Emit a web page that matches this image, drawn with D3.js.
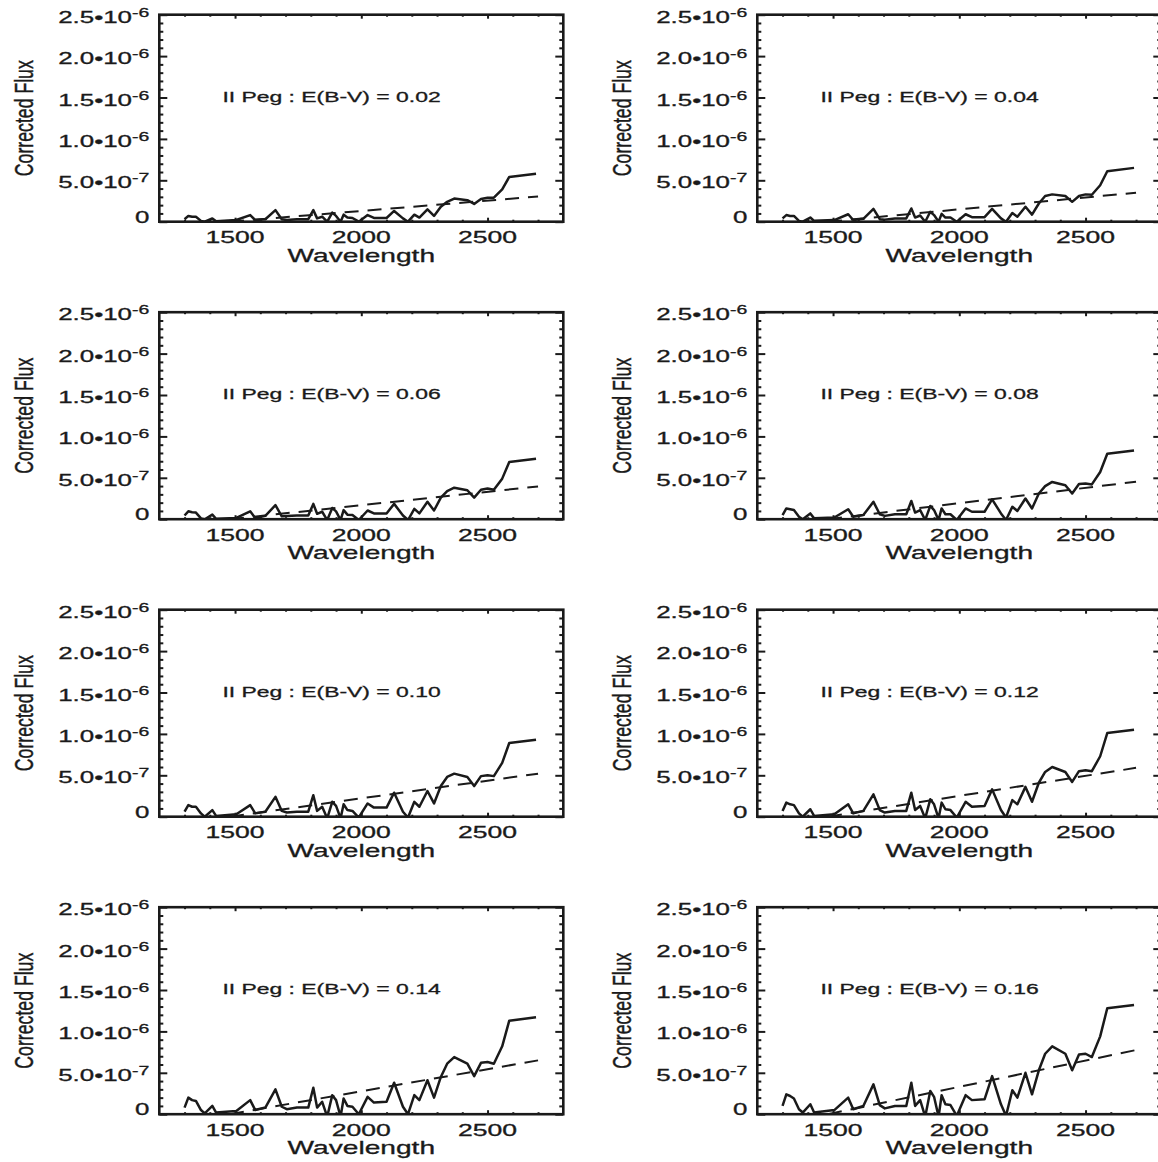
<!DOCTYPE html>
<html>
<head>
<meta charset="utf-8">
<script src="https://cdn.jsdelivr.net/npm/d3@7"></script>
<style>
body { margin: 0; background: #fff; }
svg { display: block; }
text { font-family: "Liberation Sans", Helvetica, Arial, sans-serif; fill: #1a1a1a; stroke: #1a1a1a; stroke-width: 0.3px; }
</style>
</head>
<body>
<div id="chart"></div>
<script>
// wavelength grid (Angstrom), shared by all panels
var wavelength = [1300, 1315, 1330, 1345, 1365, 1380, 1410, 1425, 1505, 1560, 1580, 1620, 1660, 1685, 1705, 1745, 1790, 1810, 1825, 1845, 1865, 1885, 1900, 1918, 1930, 1945, 1965, 1990, 2025, 2050, 2100, 2130, 2165, 2185, 2210, 2230, 2262, 2288, 2315, 2340, 2368, 2420, 2447, 2474, 2500, 2525, 2558, 2586, 2692]

// corrected flux, units of 1e-7
var flux002 = [0.3, 0.7, 0.6, 0.6, 0.1, 0.0, 0.4, 0.05, 0.2, 0.8, 0.2, 0.3, 1.4, 0.3, 0.2, 0.3, 0.3, 1.4, 0.4, 0.6, 0.0, 1.1, 0.7, 0.0, 0.85, 0.5, 0.45, 0.0, 0.8, 0.45, 0.45, 1.3, 0.4, 0.0, 0.85, 0.5, 1.5, 0.7, 1.8, 2.4, 2.8, 2.6, 2.15, 2.75, 2.9, 2.9, 3.9, 5.4, 5.8]
var flux004 = [0.4, 0.8, 0.7, 0.7, 0.1, 0.0, 0.5, 0.1, 0.2, 0.9, 0.2, 0.35, 1.55, 0.3, 0.25, 0.4, 0.4, 1.6, 0.5, 0.75, 0.0, 1.2, 0.8, 0.0, 0.95, 0.5, 0.5, 0.0, 0.9, 0.55, 0.55, 1.55, 0.4, 0.0, 1.05, 0.6, 1.8, 0.85, 2.2, 3.1, 3.3, 3.1, 2.4, 3.1, 3.3, 3.25, 4.4, 6.1, 6.5]
var flux006 = [0.45, 0.95, 0.85, 0.8, 0.1, 0.0, 0.55, 0.05, 0.15, 0.95, 0.15, 0.4, 1.7, 0.35, 0.4, 0.45, 0.45, 1.85, 0.65, 0.9, -0.1, 1.35, 0.95, -0.1, 1.1, 0.55, 0.5, -0.1, 1.05, 0.7, 0.7, 1.85, 0.45, -0.1, 1.25, 0.7, 2.1, 1.05, 2.6, 3.4, 3.8, 3.5, 2.6, 3.55, 3.7, 3.55, 4.9, 6.9, 7.3]
var flux008 = [0.5, 1.3, 1.2, 1.1, 0.3, 0.0, 0.7, 0.1, 0.2, 1.2, 0.3, 0.5, 2.1, 0.6, 0.4, 0.6, 0.6, 2.2, 0.8, 1.1, -0.1, 1.6, 1.1, -0.1, 1.3, 0.6, 0.6, -0.1, 1.3, 0.9, 0.9, 2.4, 0.7, -0.1, 1.5, 1.0, 2.5, 1.3, 3.1, 4.0, 4.5, 4.1, 3.1, 4.25, 4.3, 4.2, 5.7, 7.9, 8.3]
var flux010 = [0.6, 1.4, 1.2, 1.2, 0.4, 0.0, 0.8, 0.1, 0.3, 1.4, 0.4, 0.6, 2.4, 0.7, 0.5, 0.6, 0.6, 2.6, 0.7, 1.2, -0.2, 1.8, 1.3, -0.2, 1.5, 0.8, 0.7, -0.1, 1.6, 1.1, 1.1, 2.9, 0.6, -0.1, 1.8, 1.2, 3.1, 1.6, 3.7, 4.8, 5.2, 4.8, 3.7, 4.9, 5.0, 4.9, 6.5, 8.9, 9.3]
var flux012 = [0.7, 1.7, 1.5, 1.4, 0.4, 0.0, 0.9, 0.1, 0.3, 1.5, 0.4, 0.7, 2.7, 0.8, 0.5, 0.7, 0.7, 2.9, 0.8, 1.3, -0.2, 2.1, 1.5, -0.2, 1.7, 0.9, 0.8, -0.1, 1.8, 1.2, 1.3, 3.3, 0.8, -0.1, 2.0, 1.5, 3.6, 1.8, 4.1, 5.4, 6.0, 5.4, 4.2, 5.5, 5.6, 5.5, 7.3, 10.1, 10.5]
var flux014 = [0.8, 2.0, 1.7, 1.6, 0.5, 0.1, 1.0, 0.2, 0.4, 1.7, 0.5, 0.8, 3.0, 0.9, 0.6, 0.8, 0.8, 3.2, 0.8, 1.5, -0.3, 2.3, 1.7, -0.3, 1.9, 1.0, 0.9, 0.0, 2.1, 1.4, 1.5, 3.8, 0.9, 0.0, 2.3, 1.7, 4.1, 2.0, 4.5, 6.1, 6.9, 6.1, 4.6, 6.2, 6.3, 6.1, 8.2, 11.3, 11.7]
var flux016 = [1.0, 2.4, 2.2, 1.9, 0.6, 0.2, 1.2, 0.2, 0.5, 2.0, 0.6, 1.0, 3.6, 1.1, 0.7, 1.0, 1.0, 3.8, 1.0, 1.7, -0.3, 2.8, 2.1, -0.3, 2.3, 1.2, 1.1, -0.2, 2.3, 1.7, 1.8, 4.6, 1.2, -0.2, 2.9, 2.0, 5.0, 2.4, 5.3, 7.3, 8.2, 7.3, 5.3, 7.2, 7.3, 6.9, 9.4, 12.8, 13.2]

// dashed reference line: end points, wavelength and flux (1e-7)
var fitWave = [1480, 2700]
var fitStart = [0, 0, 0, 0, 0, 0, 0, 0]
var fitEnd = [3.05, 3.5, 3.96, 4.53, 5.2, 5.9, 6.5, 7.75]

var ebv = ['0.02', '0.04', '0.06', '0.08', '0.10', '0.12', '0.14', '0.16']
var fluxes = [flux002, flux004, flux006, flux008, flux010, flux012, flux014, flux016]

var xTicks = [1500, 2000, 2500]
var xMinor = [1300, 1400, 1600, 1700, 1800, 1900, 2100, 2200, 2300, 2400, 2600, 2700]
var yTicks = [0, 5, 10, 15, 20, 25]
var yMinor = [1, 2, 3, 4, 6, 7, 8, 9, 11, 12, 13, 14, 16, 17, 18, 19, 21, 22, 23, 24]
var yTickMant = ['0', '5.0', '1.0', '1.5', '2.0', '2.5']
var yTickExp = ['', '-7', '-6', '-6', '-6', '-6']

var W = 1158, H = 1162
var colX = [159.3, 757.3]
var rowY = [14.7, 312.2, 609.7, 907.2]
var pw = 404, ph = 207
var sx = 1.6  // the whole figure is stretched sideways

var svg = d3.select('#chart').append('svg').attr('width', W).attr('height', H)
svg.append('rect').attr('width', W).attr('height', H).attr('fill', '#fff')

var x = d3.scaleLinear().domain([1200, 2800]).range([0, pw])
var y = d3.scaleLinear().domain([0, 25]).range([ph, 0])

var drawTicks = function(g) {
	var strokeIt = function(sel) {
		sel.select('.domain').remove()
		sel.selectAll('line').attr('stroke', '#1a1a1a').attr('stroke-width', 2)
		sel.selectAll('text').remove()
	}
	g.append('g').attr('transform', 'translate(0,' + ph + ')')
		.call(d3.axisBottom(x).tickValues(xTicks).tickSize(-4).tickSizeOuter(0)).call(strokeIt)
	g.append('g').attr('transform', 'translate(0,' + ph + ')')
		.call(d3.axisBottom(x).tickValues(xMinor).tickSize(-2).tickSizeOuter(0)).call(strokeIt)
	g.append('g')
		.call(d3.axisTop(x).tickValues(xTicks).tickSize(-4).tickSizeOuter(0)).call(strokeIt)
	g.append('g')
		.call(d3.axisTop(x).tickValues(xMinor).tickSize(-2).tickSizeOuter(0)).call(strokeIt)
	g.append('g')
		.call(d3.axisLeft(y).tickValues(yTicks).tickSize(-8).tickSizeOuter(0)).call(strokeIt)
	g.append('g')
		.call(d3.axisLeft(y).tickValues(yMinor).tickSize(-4).tickSizeOuter(0)).call(strokeIt)
	g.append('g').attr('transform', 'translate(' + pw + ',0)')
		.call(d3.axisRight(y).tickValues(yTicks).tickSize(-8).tickSizeOuter(0)).call(strokeIt)
	g.append('g').attr('transform', 'translate(' + pw + ',0)')
		.call(d3.axisRight(y).tickValues(yMinor).tickSize(-4).tickSizeOuter(0)).call(strokeIt)
}

var stretched = function(g, tx, ty, str, size, anchor, s) {
	return g.append('text')
		.attr('transform', 'translate(' + tx + ',' + ty + ') scale(' + (s || sx) + ',1)')
		.attr('font-size', size)
		.attr('text-anchor', anchor || 'middle')
		.text(str)
}

var line = d3.line()
	.x(function(d) { return x(d[0]) })
	.y(function(d) { return y(d[1]) })

svg.append('defs').append('clipPath').attr('id', 'plotclip')
	.append('rect').attr('width', pw).attr('height', ph)

ebv.forEach(function(e, i) {
	var g = svg.append('g')
		.attr('transform', 'translate(' + colX[i % 2] + ',' + rowY[Math.floor(i / 2)] + ')')

	var marks = g.append('g').attr('clip-path', 'url(#plotclip)')

	marks.append('path')
		.datum(wavelength.map(function(w, k) { return [w, fluxes[i][k]] }))
		.attr('d', line)
		.attr('fill', 'none')
		.attr('stroke', '#1a1a1a')
		.attr('stroke-width', 2.5)
		.attr('stroke-linejoin', 'round')

	marks.append('path')
		.datum([[fitWave[0], fitStart[i]], [fitWave[1], fitEnd[i]]])
		.attr('d', line)
		.attr('fill', 'none')
		.attr('stroke', '#1a1a1a')
		.attr('stroke-width', 2)
		.attr('stroke-dasharray', '14,9')

	drawTicks(g)

	g.append('rect').attr('width', pw).attr('height', ph)
		.attr('fill', 'none').attr('stroke', '#1a1a1a').attr('stroke-width', 2.6)

	// y tick labels, mantissa•10 with a raised exponent
	yTicks.forEach(function(t, k) {
		var ty = y(t) + (k === 0 ? 1 : 8)
		var lab = g.append('text')
			.attr('transform', 'translate(-10,' + ty + ') scale(1.62,1)')
			.attr('font-size', 16)
			.attr('text-anchor', 'end')
		if (yTickExp[k]) {
			lab.append('tspan').text(yTickMant[k] + '\u202210')
			lab.append('tspan').attr('dy', -6).attr('font-size', 12).text(yTickExp[k])
		} else {
			lab.text(yTickMant[k])
		}
	})

	xTicks.forEach(function(t) {
		stretched(g, x(t), ph + 21.5, String(t), 16.2, 'middle', 1.64)
	})

	stretched(g, pw / 2, ph + 40, 'Wavelength', 18.5, 'middle', 1.52)

	g.append('text')
		.attr('transform', 'translate(' + (-126) + ',' + (ph / 2) + ') scale(1.5,1) rotate(-90)')
		.attr('font-size', 17.7)
		.attr('text-anchor', 'middle')
		.text('Corrected Flux')

	stretched(g, x(1450), y(14.5), 'II Peg : E(B-V) = ' + e, 14.5, 'start', 1.58)
})
</script>
</body>
</html>
